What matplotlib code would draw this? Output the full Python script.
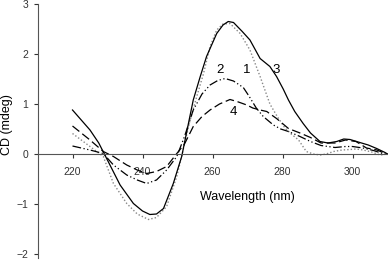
import numpy as np
import matplotlib.pyplot as plt

plt.rcParams['font.family'] = ['Liberation Sans', 'DejaVu Sans']

# curve 1 (dotted)
wl_1 = [220, 222.5, 225, 228.8, 231.7, 235.5, 238.5, 241.7, 244, 246.9, 249.8, 251.5,
        253.5, 255.5, 257.4, 259.3, 261.2, 263, 265, 267.9, 270.7, 273.6, 276.4,
        278.5, 280.7, 282.5, 284.6, 286.8, 288.8, 290.8, 292.5, 294.6, 297, 299.3,
        301, 303.1, 305.5, 307.9, 310]
cd_1 = [0.41, 0.28, 0.15, -0.05, -0.59, -0.99, -1.2, -1.31, -1.27, -1.05, -0.45, 0.05,
        0.65, 1.15, 1.6, 2.15, 2.48, 2.6, 2.61, 2.41, 2.08, 1.55, 1.0,
        0.75, 0.52, 0.4, 0.28, 0.05, 0.0, -0.02, 0.0, 0.05, 0.08, 0.09,
        0.1, 0.08, 0.04, -0.02, 0.0]

# curve 2 (dash-dot)
wl_2 = [220, 222.5, 225, 228.8, 231.7, 235.5, 238.5, 241.2, 244, 246.9, 249.8, 252,
        254.5, 257, 259.3, 261.5, 263.6, 266, 268.8, 270.5, 272.5, 274.5, 277.4, 279.5,
        281.7, 285, 288, 291, 295, 298, 300, 303, 306, 309, 310]
cd_2 = [0.16, 0.12, 0.08, 0.01, -0.22, -0.42, -0.52, -0.59, -0.52, -0.32, -0.05, 0.35,
        0.88, 1.2, 1.38, 1.47, 1.51, 1.46, 1.33, 1.15, 0.92, 0.75, 0.58, 0.5,
        0.45, 0.35, 0.25, 0.17, 0.13, 0.15, 0.15, 0.12, 0.07, 0.0, 0.0]

# curve 3 (solid)
wl_3 = [220, 222.5, 225, 227.5, 230.7, 233.6, 237.4, 240, 242.1, 244, 246, 248.8,
        251.2, 252.8, 254.5, 256.5, 258.3, 261.2, 263, 264.5, 266, 268.5, 270.7,
        273.6, 276.4, 278.3, 280.2, 281.7, 283.5, 285.9, 288, 290.7, 293, 295.5,
        297.5, 299.3, 302.1, 304.5, 306.9, 309.3, 310]
cd_3 = [0.88, 0.68, 0.48, 0.22, -0.22, -0.62, -0.99, -1.14, -1.21, -1.2, -1.09, -0.59,
        -0.05, 0.5, 1.08, 1.55, 1.95, 2.41, 2.58, 2.65, 2.63, 2.45, 2.28,
        1.91, 1.75, 1.55, 1.3, 1.08, 0.85, 0.61, 0.42, 0.25, 0.22, 0.25,
        0.3, 0.29, 0.23, 0.18, 0.11, 0.03, 0.0]

# curve 4 (dashed)
wl_4 = [220, 222.5, 225, 228.8, 231.7, 235.5, 238.5, 241.2, 244, 246.9, 249.8, 252,
        254.5, 257, 259.3, 262, 265, 267, 269.8, 271.5, 273.6, 275.5, 278.3, 281.7,
        285, 288, 291, 295, 298, 301, 304, 307, 309, 310]
cd_4 = [0.56, 0.42, 0.28, 0.05, -0.05, -0.22, -0.32, -0.39, -0.35, -0.25, 0.01, 0.2,
        0.55, 0.75, 0.88, 1.0, 1.09, 1.05, 0.98, 0.92, 0.88, 0.85, 0.71, 0.51,
        0.42, 0.33, 0.22, 0.22, 0.28, 0.25, 0.12, 0.08, 0.02, 0.0]

curve_labels = ['1', '2', '3', '4']
label_pos = [(269.9, 1.68), (262.1, 1.68), (278.1, 1.68), (266.1, 0.84)]

fig = plt.figure(figsize=(3.88, 2.61), dpi=100)
ax = fig.add_axes([37.5 / 388, 0.0134, 350 / 388, 0.9751])

ax.plot(wl_1, cd_1, color='#888888', lw=1.0, linestyle=(0, (1, 1.5)))
ax.plot(wl_2, cd_2, color='black', lw=0.9, linestyle=(0, (7, 2, 1, 2, 1, 2)))
ax.plot(wl_3, cd_3, color='black', lw=0.9, linestyle='-')
ax.plot(wl_4, cd_4, color='black', lw=0.9, linestyle=(0, (7, 3)))

for lab, (x, y) in zip(curve_labels, label_pos):
    ax.text(x, y, lab, fontsize=9.5, ha='center', va='center')

ax.set_xlim(210, 310)
ax.set_ylim(-2.07, 3.02)
ax.set_xticks([220, 240, 260, 280, 300])
ax.set_yticks([-2, -1, 0, 1, 2, 3])
ax.spines['top'].set_visible(False)
ax.spines['right'].set_visible(False)
ax.spines['bottom'].set_position(('data', 0))
ax.spines['bottom'].set_color('#555555')
ax.spines['left'].set_color('#555555')
ax.spines['left'].set_bounds(-2.07, 3)
ax.tick_params(axis='both', labelsize=7.5, colors='#333333', length=3, width=0.8)
ax.tick_params(axis='x', pad=6)

ax.text(270, -0.86, 'Wavelength (nm)', fontsize=9, ha='center', va='center')
fig.text(7 / 388, 1 - 125 / 261, 'CD (mdeg)', fontsize=9, rotation=90,
         ha='center', va='center')

fig.savefig('out.png', dpi=100)
